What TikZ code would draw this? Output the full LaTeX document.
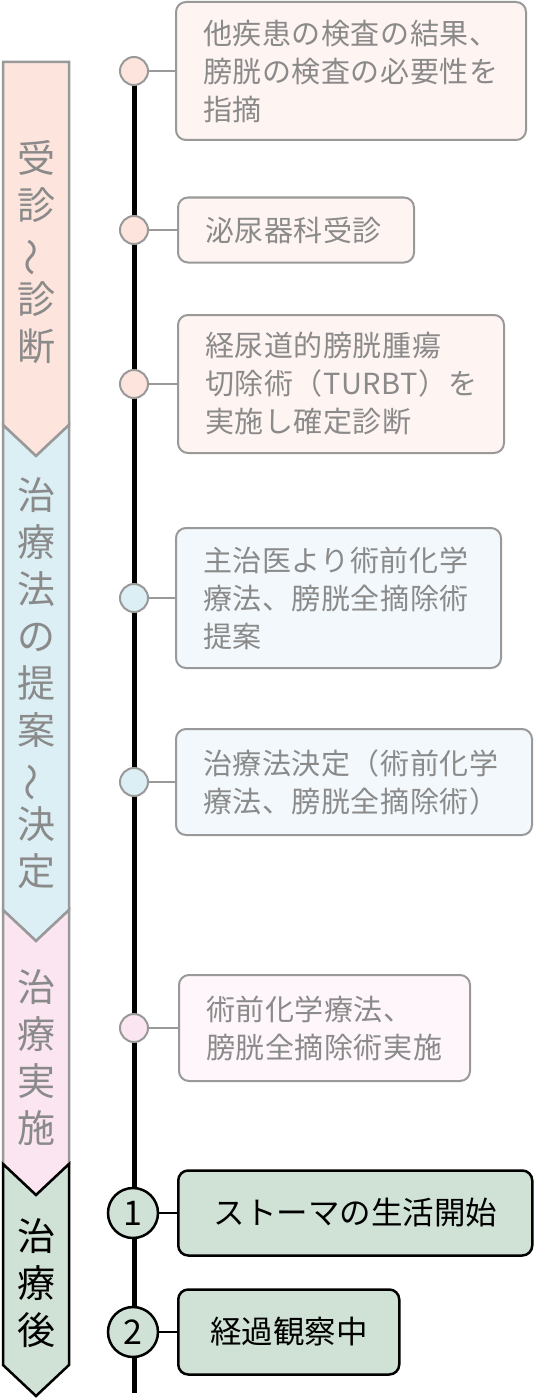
\documentclass[tikz,border=0pt]{standalone}
\usepackage{fontspec}
\usepackage{graphicx}
\newfontfamily\bandfont{Noto Sans CJK JP}
\newfontfamily\boxfont{Noto Sans CJK JP}[LetterSpace=2]
\newfontfamily\greenfont{Noto Sans CJK JP}
\definecolor{lineGray}{HTML}{999999}
\definecolor{textGray}{HTML}{8A8A8A}
\definecolor{segPink}{HTML}{FDE5DE}
\definecolor{boxPink}{HTML}{FEF4F2}
\definecolor{segBlue}{HTML}{DCEFF4}
\definecolor{boxBlue}{HTML}{F2F8FB}
\definecolor{segRose}{HTML}{FBE5F0}
\definecolor{boxRose}{HTML}{FEF6FA}
\definecolor{stepGreen}{HTML}{D0E2D6}

\begin{document}
\begin{tikzpicture}[x=1pt, y=-1pt,
  dot/.style={draw=lineGray, fill=#1, circle, line width=2pt, minimum size=28pt, inner sep=0pt},
  numdot/.style={draw=black, fill=stepGreen, circle, line width=2.5pt, minimum size=50pt, inner sep=0pt, font=\greenfont\fontsize{34}{34}\selectfont},
  evbox/.style={draw=lineGray, fill=#1, rounded corners=10pt, line width=2pt, anchor=west, inner xsep=27pt, align=left, text=textGray, font=\boxfont\fontsize{29}{38}\selectfont},
  gbox/.style={draw=black, fill=stepGreen, rounded corners=10pt, line width=2.5pt, anchor=west, align=center, minimum height=85pt, font=\greenfont\fontsize{31.5}{36}\selectfont},
  bandtext/.style={align=center, inner sep=0pt, text=#1, font=\bandfont\fontsize{38}{47}\selectfont},
  conn/.style={line width=2.2pt, lineGray}]
\useasboundingbox (0, 0) rectangle (533, 1399);

% phase band
\draw [line width=2.5pt, lineGray, fill=segPink] (3, 62) -- (69, 62) -- (69, 425) -- (36, 456) -- (3, 425) -- cycle;
\draw [line width=2.5pt, lineGray, fill=segBlue] (3, 425) -- (36, 456) -- (69, 425) -- (69, 910) -- (36, 941) -- (3, 910) -- cycle;
\draw [line width=2.5pt, lineGray, fill=segRose] (3, 910) -- (36, 941) -- (69, 910) -- (69, 1164) -- (36, 1195) -- (3, 1164) -- cycle;
\draw [line width=2.5pt, black, fill=stepGreen] (3, 1164) -- (36, 1195) -- (69, 1164) -- (69, 1365) -- (36, 1396) -- (3, 1365) -- cycle;

\node [bandtext=textGray] (T1) at (36, 252.5) {受\\診\\\rotatebox[origin=c]{90}{～}\\診\\断};
\node [bandtext=textGray] (T2) at (36, 683.5) {治\\療\\法\\の\\提\\案\\\rotatebox[origin=c]{90}{～}\\決\\定};
\node [bandtext=textGray] (T3) at (36, 1057.5) {治\\療\\実\\施};
\node [bandtext=black] (T4) at (36, 1283.5) {治\\療\\後};

% time line
\coordinate (top) at (134, 71);
\coordinate (bottom) at (134, 1393);
\draw [line width=5pt, black] (top) -- (bottom);

\node [dot=segPink] (D1) at (134, 71) {};
\node [dot=segPink] (D2) at (134, 230) {};
\node [dot=segPink] (D3) at (134, 384) {};
\node [dot=segBlue] (D4) at (134, 598) {};
\node [dot=segBlue] (D5) at (134, 782) {};
\node [dot=segRose] (D6) at (134, 1028) {};
\node [numdot] (D7) at (133, 1213) {1};
\node [numdot] (D8) at (133, 1332) {2};

\node [evbox=boxPink, text width=296pt, minimum height=138pt] (E1) at (175, 71) {他疾患の検査の結果、\\膀胱の検査の必要性を\\指摘};
\node [evbox=boxPink, text width=182pt, minimum height=65pt] (E2) at (177, 230) {泌尿器科受診};
\node [evbox=boxPink, text width=272pt, minimum height=138pt] (E3) at (177, 384) {経尿道的膀胱腫瘍\\切除術（TURBT）を\\実施し確定診断};
\node [evbox=boxBlue, text width=271pt, minimum height=140pt] (E4) at (175, 598) {主治医より術前化学\\療法、膀胱全摘除術\\提案};
\node [evbox=boxBlue, text width=302pt, minimum height=106pt] (E5) at (175, 782) {治療法決定（術前化学\\療法、膀胱全摘除術）};
\node [evbox=boxRose, text width=237pt, minimum height=106pt] (E6) at (178, 1028) {術前化学療法、\\膀胱全摘除術実施};
\node [gbox, minimum width=354pt] (E7) at (177, 1213) {ストーマの生活開始};
\node [gbox, minimum width=221pt] (E8) at (177, 1332) {経過観察中};

\draw [conn] (D1) -- (E1);
\draw [conn] (D2) -- (E2);
\draw [conn] (D3) -- (E3);
\draw [conn] (D4) -- (E4);
\draw [conn] (D5) -- (E5);
\draw [conn] (D6) -- (E6);
\draw [line width=2.2pt, black] (D7) -- (E7);
\draw [line width=2.2pt, black] (D8) -- (E8);
\end{tikzpicture}
\end{document}
